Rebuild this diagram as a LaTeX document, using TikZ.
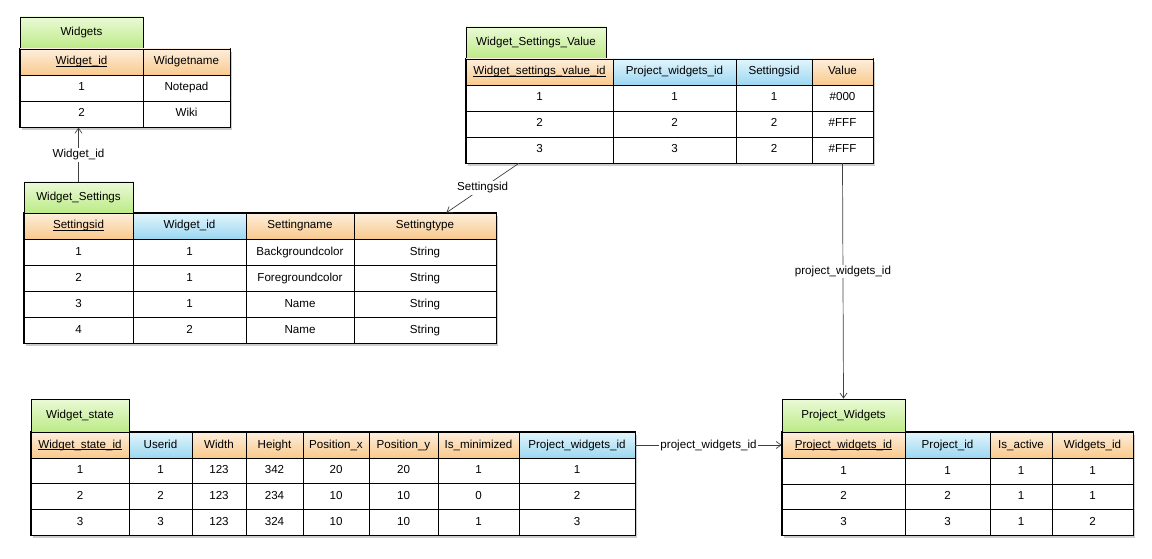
\documentclass[tikz,border=0pt]{standalone}
\usepackage{fontspec}
\setmainfont{Liberation Sans}
\usetikzlibrary{positioning,shadows,arrows.meta,calc}

\definecolor{topt}{HTML}{EAFAD6}
\definecolor{bott}{HTML}{BCEA86}
\definecolor{topo}{HTML}{FDEEDC}
\definecolor{boto}{HTML}{F9C98C}
\definecolor{topb}{HTML}{E2F5FC}
\definecolor{botb}{HTML}{9CD7F1}

% header row: prefix, column array, top, bottom, colour/text list
\newcommand{\headrow}[5]{%
  \foreach \hc/\txt [count=\c] in {#5} {
    \pgfmathsetmacro{\xl}{#2[\c-1]}
    \pgfmathsetmacro{\xr}{#2[\c]}
    \node[cell, top color=top\hc, bottom color=bot\hc, minimum width=\xr-\xl, minimum height=#4-#3]
      (#1-\c) at ({(\xl+\xr)/2},{(#3+#4)/2}) {\txt};
  }
}
% data row: prefix, column array, top, bottom, values
\newcommand{\datarow}[5]{%
  \foreach \v [count=\c] in {#5} {
    \pgfmathsetmacro{\xl}{#2[\c-1]}
    \pgfmathsetmacro{\xr}{#2[\c]}
    \node[cell, minimum width=\xr-\xl, minimum height=#4-#3]
      (#1-\c) at ({(\xl+\xr)/2},{(#3+#4)/2}) {\v};
  }
}
% primary key underline, close to the baseline
\newcommand{\pkey}[1]{\setbox0\hbox{#1}\rlap{\rule[-1.3pt]{\wd0}{0.6pt}}\box0}

\begin{document}
\begin{tikzpicture}[x=1pt,y=-1pt]
   \tikzset{cell/.style = {rectangle, draw, line width=0.7pt, inner sep=0pt, text centered, text height=8.6pt, text depth=2.6pt, fill=white, font=\fontsize{11.6}{13}\selectfont}, }
   \tikzset{tabtitle/.style = {cell, top color=topt, bottom color=bott}, }
   \tikzset{tabbody/.style = {rectangle, draw, line width=1.3pt, inner sep=0pt, fill=white, drop shadow={shadow xshift=2pt, shadow yshift=-3pt, opacity=0.4}} }
   \tikzset{link/.style = {draw=black!75, line width=0.7pt, -{Straight Barb[length=5pt,width=7pt]}} }
   \tikzset{linklabel/.style = {fill=white, inner sep=1.5pt, text=black, font=\fontsize{11.6}{13}\selectfont} }
   \useasboundingbox (0,0) rectangle (1152,559);

   % Widgets
   \def\Wcols{{20,143,230}}
   \node[tabbody, minimum width=210, minimum height=78] (W-body) at (125,88) {};
   \node[tabtitle, minimum width=123, minimum height=32] (W-title) at (81.5,33) {Widgets};
   \headrow{W-h}{\Wcols}{49}{75}{o/\pkey{Widget\_id}, o/Widgetname}
   \datarow{W-r1}{\Wcols}{75}{101}{1,Notepad}
   \datarow{W-r2}{\Wcols}{101}{127}{2,Wiki}

   % Widget_Settings
   \def\Scols{{24,133,246,354,496}}
   \node[tabbody, minimum width=472, minimum height=130] (S-body) at (260,278) {};
   \node[tabtitle, minimum width=109, minimum height=31] (S-title) at (78.5,197.5) {Widget\_Settings};
   \headrow{S-h}{\Scols}{213}{239}{o/\pkey{Settingsid}, b/Widget\_id, o/Settingname, o/Settingtype}
   \datarow{S-r1}{\Scols}{239}{265}{1,1,Backgroundcolor,String}
   \datarow{S-r2}{\Scols}{265}{291}{2,1,Foregroundcolor,String}
   \datarow{S-r3}{\Scols}{291}{317}{3,1,Name,String}
   \datarow{S-r4}{\Scols}{317}{343}{4,2,Name,String}

   % Widget_Settings_Value
   \def\Vcols{{466,613,736,812,873}}
   \node[tabbody, minimum width=407, minimum height=104] (V-body) at (669.5,111) {};
   \node[tabtitle, minimum width=140, minimum height=32] (V-title) at (536,43) {Widget\_Settings\_Value};
   \headrow{V-h}{\Vcols}{59}{85}{o/\pkey{Widget\_settings\_value\_id}, b/Project\_widgets\_id, b/Settingsid, o/Value}
   \datarow{V-r1}{\Vcols}{85}{111}{1,1,1,\#000}
   \datarow{V-r2}{\Vcols}{111}{137}{2,2,2,\#FFF}
   \datarow{V-r3}{\Vcols}{137}{163}{3,3,2,\#FFF}

   % Widget_state
   \def\Tcols{{31,129,192,246,303,369,438,519,635}}
   \node[tabbody, minimum width=604, minimum height=103] (T-body) at (333,483.5) {};
   \node[tabtitle, minimum width=98, minimum height=33] (T-title) at (80,415.5) {Widget\_state};
   \headrow{T-h}{\Tcols}{432}{458}{o/\pkey{Widget\_state\_id}, b/Userid, o/Width, o/Height, o/Position\_x, o/Position\_y, o/Is\_minimized, b/Project\_widgets\_id}
   \datarow{T-r1}{\Tcols}{458}{483}{1,1,123,342,20,20,1,1}
   \datarow{T-r2}{\Tcols}{483}{509}{2,2,123,234,10,10,0,2}
   \datarow{T-r3}{\Tcols}{509}{535}{3,3,123,324,10,10,1,3}

   % Project_Widgets
   \def\Pcols{{782,905,990,1052,1133}}
   \node[tabbody, minimum width=351, minimum height=103] (P-body) at (957.5,483.5) {};
   \node[tabtitle, minimum width=123, minimum height=33] (P-title) at (843.5,415.5) {Project\_Widgets};
   \headrow{P-h}{\Pcols}{432}{458}{o/\pkey{Project\_widgets\_id}, b/Project\_id, o/Is\_active, o/Widgets\_id}
   \datarow{P-r1}{\Pcols}{458}{484}{1,1,1,1}
   \datarow{P-r2}{\Pcols}{484}{509}{2,2,1,1}
   \datarow{P-r3}{\Pcols}{509}{535}{3,3,1,2}

   % foreign keys
   \draw[link] (S-title.north) -- node[linklabel] {Widget\_id} (S-title.north |- W-body.south);
   \draw[link] ($(V-r3-1.south west)!0.36!(V-r3-1.south east)$)
     -- node[linklabel] {Settingsid} ($(S-h-4.north west)!0.65!(S-h-4.north east)$);
   \draw[link] (V-r3-4.south) -- node[linklabel, pos=0.46] {project\_widgets\_id} (P-title.north);
   \draw[link] (T-h-8.east) -- node[linklabel] {project\_widgets\_id} (P-h-1.west);
\end{tikzpicture}
\end{document}
